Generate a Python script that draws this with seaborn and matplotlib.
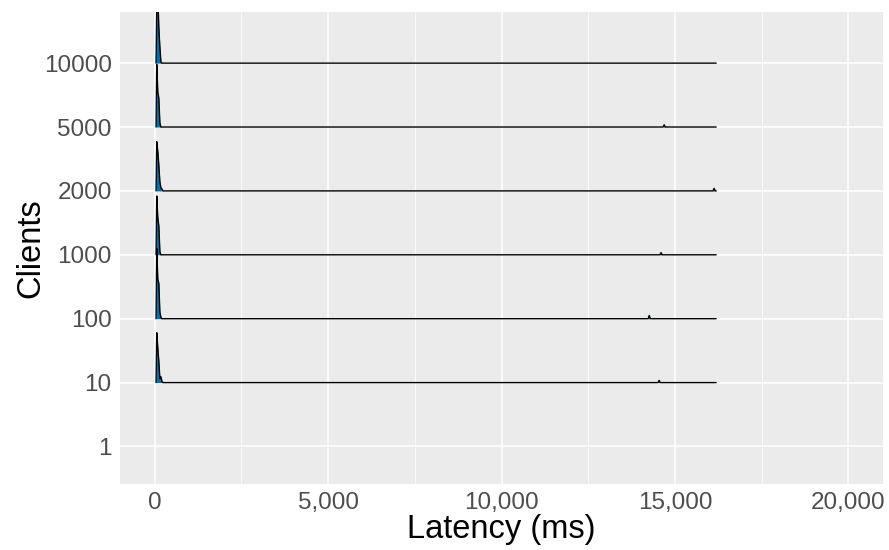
import matplotlib
matplotlib.use("Agg")
import matplotlib.pyplot as plt
from matplotlib.ticker import FuncFormatter
import numpy as np
import pandas as pd
import seaborn as sns

# Client counts on the y axis (bottom to top); "1" has no latency samples
clients = ["1", "10", "100", "1000", "2000", "5000", "10000"]

# Density grid (ms) around the main latency mode
grid_ms = [40, 60, 90, 120, 150, 180, 210, 240]

# Scaled ridge heights on grid_ms, per client count
dens_10 = [0.00, 0.78, 0.55, 0.33, 0.06, 0.09, 0.02, 0.00]
dens_100 = [0.00, 1.10, 0.62, 0.55, 0.10, 0.02, 0.00, 0.00]
dens_1000 = [0.00, 0.92, 0.58, 0.45, 0.05, 0.00, 0.00, 0.00]
dens_2000 = [0.00, 0.77, 0.62, 0.40, 0.14, 0.05, 0.03, 0.00]
dens_5000 = [0.00, 0.98, 0.55, 0.45, 0.06, 0.00, 0.00, 0.00]
dens_10000 = [0.00, 0.90, 1.05, 0.55, 0.25, 0.02, 0.00, 0.00]

# Rare slow requests: position (ms) and scaled height of the tail bump
tail_ms = [14545, 14260, 14600, 16130, 14690, None]
tail_height = [0.035, 0.05, 0.035, 0.04, 0.035, 0.0]

# Upper end of the shared density range (ms)
range_end_ms = 16190

ridge_clients = ["10", "100", "1000", "2000", "5000", "10000"]
ridge_dens = [dens_10, dens_100, dens_1000, dens_2000, dens_5000, dens_10000]

rows = []
for name, dens, t_ms, t_h in zip(ridge_clients, ridge_dens, tail_ms, tail_height):
    xs = list(grid_ms)
    hs = list(dens)
    if t_ms is not None:
        xs += [t_ms - 32, t_ms, min(t_ms + 32, range_end_ms)]
        hs += [0.0, t_h, 0.0]
    xs.append(range_end_ms)
    hs.append(0.0)
    base = clients.index(name)
    for x, h in zip(xs, hs):
        rows.append({"clients": name, "latency": x, "base": base, "y": base + h})
df = pd.DataFrame(rows)

sns.set_theme(style="darkgrid")
plt.rcParams["font.family"] = ["Liberation Sans", "DejaVu Sans"]

fig = plt.figure(figsize=(8.89, 5.5), dpi=100)
ax = fig.add_axes([120 / 889, 66 / 550, 763 / 889, 472 / 550])
ax.set_facecolor("#EBEBEB")
for sp in ax.spines.values():
    sp.set_visible(False)

fill_color = "#0072B2"
# Draw from the top ridge downward so lower ridges sit in front
for z, name in enumerate(reversed(ridge_clients)):
    sub = df[df["clients"] == name]
    ax.fill_between(sub["latency"], sub["base"], sub["y"], color=fill_color,
                    linewidth=0, zorder=3 + 2 * z)
    sns.lineplot(data=sub, x="latency", y="y", ax=ax, color="black",
                 linewidth=1.0, estimator=None, sort=False, zorder=4 + 2 * z)

ax.set_xlim(-1000, 21000)
ax.set_ylim(-0.587, 6.80)

ax.set_xticks([0, 5000, 10000, 15000, 20000])
ax.set_xticks([2500, 7500, 12500, 17500], minor=True)
ax.xaxis.set_major_formatter(FuncFormatter(lambda v, p: f"{int(v):,}"))
ax.set_yticks(range(len(clients)))
ax.set_yticklabels(clients)

ax.grid(which="major", color="white", linewidth=1.1, zorder=0)
ax.grid(which="minor", axis="x", color="white", linewidth=0.55, zorder=0)
ax.set_axisbelow(True)

ax.tick_params(axis="both", which="major", length=4, width=1.0, color="#333333",
               labelsize=17.5, labelcolor="#4D4D4D", pad=2)
ax.tick_params(axis="both", which="minor", length=0)

ax.set_xlabel("Latency (ms)", fontsize=23.5, color="black", labelpad=0)
ax.set_ylabel("Clients", fontsize=23.5, color="black", labelpad=-2)

fig.savefig("out.png", dpi=100)
